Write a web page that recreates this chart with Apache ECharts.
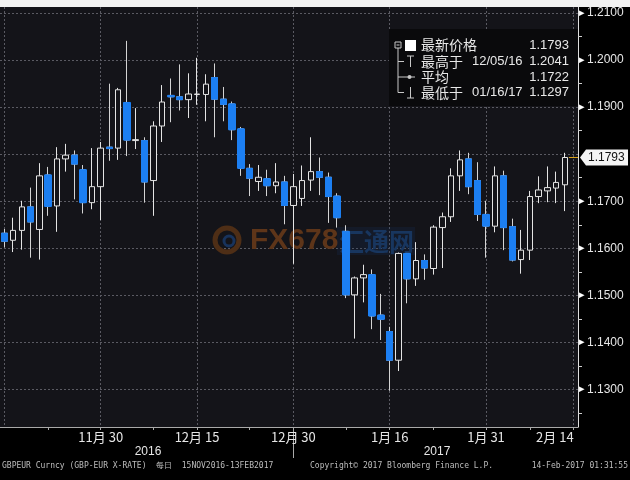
<!DOCTYPE html>
<html><head><meta charset="utf-8">
<script src="https://cdn.jsdelivr.net/npm/echarts@6/dist/echarts.min.js"></script>
<style>html,body{margin:0;padding:0;background:#000}#c{width:630px;height:480px}</style>
</head><body><div id="c"></div>
<script>
const dates = ['11/15','11/16','11/17','11/18','11/21','11/22','11/23','11/24','11/25','11/28','11/29','11/30',
'12/01','12/02','12/05','12/06','12/07','12/08','12/09','12/12','12/13','12/14','12/15','12/16','12/19','12/20','12/21','12/22','12/23','12/26','12/27','12/28','12/29','12/30',
'01/02','01/03','01/04','01/05','01/06','01/09','01/10','01/11','01/12','01/13','01/16','01/17','01/18','01/19','01/20','01/23','01/24','01/25','01/26','01/27','01/30','01/31',
'02/01','02/02','02/03','02/06','02/07','02/08','02/09','02/10','02/13','02/14'];
const openP  = [1.1632,1.1617,1.1638,1.1688,1.1640,1.1756,1.1690,1.1790,1.1798,1.1767,1.1697,1.1731,
1.1815,1.1813,1.1910,1.1829,1.1829,1.1744,1.1860,1.1925,1.1922,1.1916,1.1927,1.1927,1.1963,1.1917,1.1907,1.1854,1.1770,1.1742,1.1748,1.1733,1.1741,1.1691,
1.1706,1.1745,1.1763,1.1751,1.1711,1.1636,1.1501,1.1537,1.1544,1.1458,1.1423,1.1362,1.1589,1.1535,1.1574,1.1557,1.1644,1.1667,1.1754,1.1790,1.1744,1.1672,
1.1647,1.1754,1.1646,1.1576,1.1596,1.1710,1.1722,1.1728,1.1735,null];
const closeP = [1.1615,1.1638,1.1688,1.1656,1.1754,1.1689,1.1790,1.1798,1.1779,1.1697,1.1731,1.1813,
1.1812,1.1937,1.1830,1.1831,1.1741,1.1860,1.1911,1.1922,1.1916,1.1928,1.1928,1.1949,1.1917,1.1906,1.1852,1.1770,1.1749,1.1751,1.1733,1.1741,1.1691,1.1731,
1.1744,1.1763,1.1751,1.1710,1.1665,1.1501,1.1537,1.1544,1.1456,1.1449,1.1362,1.1589,1.1535,1.1574,1.1558,1.1645,1.1667,1.1754,1.1788,1.1731,1.1672,1.1647,
1.1754,1.1644,1.1575,1.1596,1.1710,1.1724,1.1729,1.1740,1.1793,null];
const lowP   = [1.1602,1.1592,1.1597,1.1580,1.1576,1.1669,1.1635,1.1763,1.1704,1.1674,1.1683,1.1660,
1.1786,1.1788,1.1796,1.1811,1.1697,1.1669,1.1826,1.1868,1.1893,1.1877,1.1905,1.1870,1.1836,1.1870,1.1830,1.1754,1.1711,1.1722,1.1711,1.1717,1.1651,1.1567,
1.1690,1.1722,1.1713,1.1654,1.1644,1.1494,1.1408,1.1485,1.1428,1.1405,1.1297,1.1339,1.1483,1.1520,1.1533,1.1544,1.1558,1.1656,1.1722,1.1715,1.1658,1.1580,
1.1634,1.1596,1.1572,1.1546,1.1575,1.1696,1.1698,1.1696,1.1679,null];
const highP  = [1.1641,1.1665,1.1701,1.1729,1.1781,1.1773,1.1815,1.1822,1.1808,1.1777,1.1813,1.1826,
1.1950,1.1941,1.2041,1.1898,1.1836,1.1870,1.1947,1.1961,1.1991,1.1972,1.2005,1.1970,1.1993,1.1943,1.1912,1.1858,1.1779,1.1777,1.1767,1.1781,1.1754,1.1758,
1.1776,1.1836,1.1793,1.1761,1.1717,1.1649,1.1540,1.1565,1.1555,1.1503,1.1433,1.1591,1.1590,1.1613,1.1587,1.1649,1.1676,1.1770,1.1808,1.1803,1.1783,1.1701,
1.1774,1.1765,1.1663,1.1639,1.1722,1.1753,1.1774,1.1763,1.1803,null];

const labelDates = ['11/30','12/15','12/30','01/16','01/31','02/14'];
const labelTexts = ['11月 30','12月 15','12月 30','1月 16','1月 31','2月 14'];
const minorTickDates = ['11/22','12/08','12/23','01/09','01/23','02/07'];
const gridLineDates = ['11/15','11/30','12/15','12/30','01/16','01/31','02/14'];
const yearLabelDates = ['12/07','01/23'];
const yearTexts = ['2016','2017'];
const yearSplitDate = '12/30';
const hiddenYLabel = 1.18;

const statNames  = ['最新价格','最高于','平均','最低于'];
const statDates  = ['','12/05/16','','01/16/17'];
const statValues = ['1.1793','1.2041','1.1722','1.1297'];
const footerTexts = ['GBPEUR Curncy (GBP-EUR X-RATE)  每日  15NOV2016-13FEB2017','Copyright\u00a9 2017 Bloomberg Finance L.P.','14-Feb-2017 01:31:55'];

const UP_LINE = '#e4e4e4', DOWN = '#1c7ff2', PLOT_BG = '#141419', GRIDC = '#5a5a62';
const lastIdx = closeP.reduce((a, v, i) => v == null ? a : i, 0);
const lastPrice = closeP[lastIdx];

const allData = dates.map((d, i) => openP[i] == null ? '-' : [openP[i], closeP[i], lowP[i], highP[i]]);
const downData = dates.map((d, i) => (openP[i] == null || closeP[i] >= openP[i]) ? '-' : [openP[i], closeP[i], closeP[i], openP[i]]);

const chart = echarts.init(document.getElementById('c'), null, {renderer: 'canvas'});
const sansFont = 'Liberation Sans';
const cjkFont = '"Noto Sans CJK SC", "Liberation Sans"';

function staticGraphics() {
  const g = [];
  g.push({type: 'rect', id: 'topStrip', z: 20, shape: {x: 0, y: 0, width: 630, height: 7}, style: {fill: '#f2f2f2'}});
  // watermark
  g.push({type: 'circle', id: 'wm1', z: 1, shape: {cx: 227, cy: 240, r: 12}, style: {fill: 'none', stroke: '#4e2e16', lineWidth: 5}});
  g.push({type: 'circle', id: 'wm2', z: 1, shape: {cx: 229, cy: 241, r: 5}, style: {fill: 'none', stroke: '#18335c', lineWidth: 3}});
  g.push({type: 'text', id: 'wm3', z: 1, x: 250, y: 241, style: {text: 'FX678', font: 'bold 30px "Liberation Sans"', fill: '#5e3519', verticalAlign: 'middle'}});
  g.push({type: 'rect', id: 'wm4', z: 1, shape: {x: 337, y: 227, width: 78, height: 28}, style: {fill: 'rgba(25,50,95,0.22)'}});
  g.push({type: 'text', id: 'wm5', z: 1, x: 339, y: 241, style: {text: '汇通网', font: 'bold 25px "Noto Sans CJK SC"', fill: '#18365f', verticalAlign: 'middle'}});
  // stats box
  g.push({type: 'rect', id: 'box', z: 15, shape: {x: 389, y: 29, width: 189, height: 77}, style: {fill: '#0a0a0c'}});
  const rowsY = [45, 61.5, 77, 92.5];
  const lc = '#c8c8c8';
  g.push({type: 'rect', id: 'tb', z: 16, shape: {x: 395, y: 42, width: 6, height: 6}, style: {fill: 'none', stroke: lc, lineWidth: 1}});
  g.push({type: 'line', id: 'tm', z: 16, shape: {x1: 396.5, y1: 45, x2: 399.5, y2: 45}, style: {stroke: lc}});
  g.push({type: 'line', id: 'tv', z: 16, shape: {x1: 398, y1: 48, x2: 398, y2: rowsY[3]}, style: {stroke: lc}});
  [1, 2, 3].forEach(k => g.push({type: 'line', id: 'tbr' + k, z: 16, shape: {x1: 398, y1: rowsY[k], x2: 404, y2: rowsY[k]}, style: {stroke: lc}}));
  g.push({type: 'rect', id: 'sq', z: 16, shape: {x: 405, y: 40, width: 11, height: 11}, style: {fill: '#ffffff'}});
  g.push({type: 'line', id: 'hiT1', z: 16, shape: {x1: 407, y1: 56, x2: 414, y2: 56}, style: {stroke: lc}});
  g.push({type: 'line', id: 'hiT2', z: 16, shape: {x1: 410.5, y1: 56, x2: 410.5, y2: 67}, style: {stroke: lc}});
  g.push({type: 'line', id: 'avL', z: 16, shape: {x1: 404, y1: 77, x2: 415, y2: 77}, style: {stroke: lc}});
  g.push({type: 'circle', id: 'avC', z: 16, shape: {cx: 409.5, cy: 77, r: 2}, style: {fill: lc}});
  g.push({type: 'line', id: 'loT1', z: 16, shape: {x1: 410.5, y1: 87, x2: 410.5, y2: 98}, style: {stroke: lc}});
  g.push({type: 'line', id: 'loT2', z: 16, shape: {x1: 407, y1: 98, x2: 414, y2: 98}, style: {stroke: lc}});
  statNames.forEach((s, k) => {
    g.push({type: 'text', id: 'sn' + k, z: 16, x: 421, y: rowsY[k], style: {text: s, font: '14px ' + cjkFont, fill: '#e8e8e8', verticalAlign: 'middle'}});
    if (statDates[k]) g.push({type: 'text', id: 'sd' + k, z: 16, x: 472, y: rowsY[k], style: {text: statDates[k], font: '13px "Liberation Sans"', fill: '#e8e8e8', verticalAlign: 'middle'}});
    g.push({type: 'text', id: 'sv' + k, z: 16, x: 569, y: rowsY[k], style: {text: statValues[k], font: '13px "Liberation Sans"', fill: '#e8e8e8', verticalAlign: 'middle', align: 'right'}});
  });
  // footer
  g.push({type: 'text', id: 'f0', z: 16, x: 2, y: 466, style: {text: footerTexts[0], font: '8px "DejaVu Sans Mono"', fill: '#bdbdbd', verticalAlign: 'middle'}});
  g.push({type: 'text', id: 'f1', z: 16, x: 310, y: 466, style: {text: footerTexts[1], font: '8px "DejaVu Sans Mono"', fill: '#bdbdbd', verticalAlign: 'middle'}});
  g.push({type: 'text', id: 'f2', z: 16, x: 628, y: 466, style: {text: footerTexts[2], font: '8px "DejaVu Sans Mono"', fill: '#bdbdbd', verticalAlign: 'middle', align: 'right'}});
  return g;
}

const option = {
  backgroundColor: '#000',
  animation: false,
  textStyle: {fontFamily: sansFont},
  grid: {left: -3.6, right: 52, top: 7, bottom: 53, show: true, backgroundColor: PLOT_BG, borderWidth: 0},
  xAxis: [{
    type: 'category', data: dates, boundaryGap: true,
    axisLine: {lineStyle: {color: '#a9a9a9', width: 1}},
    axisTick: {show: true, alignWithLabel: true, length: 3, lineStyle: {color: '#a9a9a9'},
      interval: (i, v) => labelDates.includes(v) || minorTickDates.includes(v)},
    axisLabel: {interval: (i, v) => labelDates.includes(v), color: '#e6e6e6', fontSize: 13, margin: 4,
      fontFamily: cjkFont, alignMaxLabel: 'right',
      formatter: v => { const k = labelDates.indexOf(v); return k >= 0 ? labelTexts[k] : ''; }},
    splitLine: {show: true, alignWithLabel: true, interval: (i, v) => gridLineDates.includes(v),
      lineStyle: {color: GRIDC, type: [2, 2], width: 1}}
  }, {
    type: 'category', data: dates, boundaryGap: true, gridIndex: 0, position: 'bottom',
    axisLine: {show: false},
    axisTick: {show: true, alignWithLabel: true, length: 31, lineStyle: {color: '#a9a9a9'},
      interval: (i, v) => v === yearSplitDate},
    axisLabel: {interval: (i, v) => yearLabelDates.includes(v), color: '#e6e6e6', fontSize: 12, margin: 19,
      formatter: v => { const k = yearLabelDates.indexOf(v); return k >= 0 ? '{p|' + yearTexts[k] + '}' : ''; },
      rich: {p: {fontSize: 12, color: '#e6e6e6', padding: [0, 0, 0, 7]}}},
    splitLine: {show: false}
  }],
  yAxis: {
    type: 'value', position: 'right', scale: true,
    min: 1.122, max: 1.2113, splitNumber: 9, minInterval: 0.01, maxInterval: 0.01,
    axisLine: {show: true, lineStyle: {color: '#e0e0e0', width: 1}},
    axisTick: {show: false},
    minorTick: {show: true, splitNumber: 2, length: 4, lineStyle: {color: '#cfcfcf'}},
    axisLabel: {showMinLabel: false, showMaxLabel: false, margin: 1, color: '#e6e6e6', fontSize: 12,
      formatter: v => Math.abs(v - hiddenYLabel) < 1e-6 ? '' : '{t|\u25B8}' + v.toFixed(4),
      rich: {t: {color: '#ffffff', fontSize: 11, padding: [0, 2, 0, 0]}}},
    splitLine: {show: true, showMinLine: false, showMaxLine: false, lineStyle: {color: GRIDC, type: [2, 2], width: 1}}
  },
  series: [{
    type: 'candlestick', name: 'all', data: allData, xAxisIndex: 0, barWidth: 6, z: 3,
    itemStyle: {color: PLOT_BG, color0: DOWN, borderColor: UP_LINE, borderColor0: '#d4d4d4', borderWidth: 1}
  }, {
    type: 'candlestick', name: 'down', data: downData, xAxisIndex: 0, barWidth: 7, z: 4,
    itemStyle: {color: DOWN, color0: DOWN, borderColor: DOWN, borderColor0: DOWN, borderWidth: 1}
  }],
  graphic: staticGraphics()
};
chart.setOption(option);

const yPx = chart.convertToPixel({yAxisIndex: 0}, lastPrice);
const xLast = chart.convertToPixel({xAxisIndex: 0}, dates[lastIdx]);
const axisX = 630 - 52;
const g2 = staticGraphics();
g2.push({type: 'line', id: 'lastLine', z: 5, shape: {x1: xLast + 4, y1: yPx, x2: axisX, y2: yPx}, style: {stroke: '#d9a21b', lineWidth: 1}});
g2.push({type: 'polygon', id: 'lastTag', z: 16, shape: {points: [[axisX + 2, yPx], [axisX + 8, yPx - 8], [axisX + 50, yPx - 8], [axisX + 50, yPx + 8], [axisX + 8, yPx + 8]]}, style: {fill: '#f4f4f4'}});
g2.push({type: 'text', id: 'lastTxt', z: 17, x: axisX + 10, y: yPx + 0.5, style: {text: lastPrice.toFixed(4), font: '12px "Liberation Sans"', fill: '#111', verticalAlign: 'middle'}});
chart.setOption({graphic: g2});
</script></body></html>
